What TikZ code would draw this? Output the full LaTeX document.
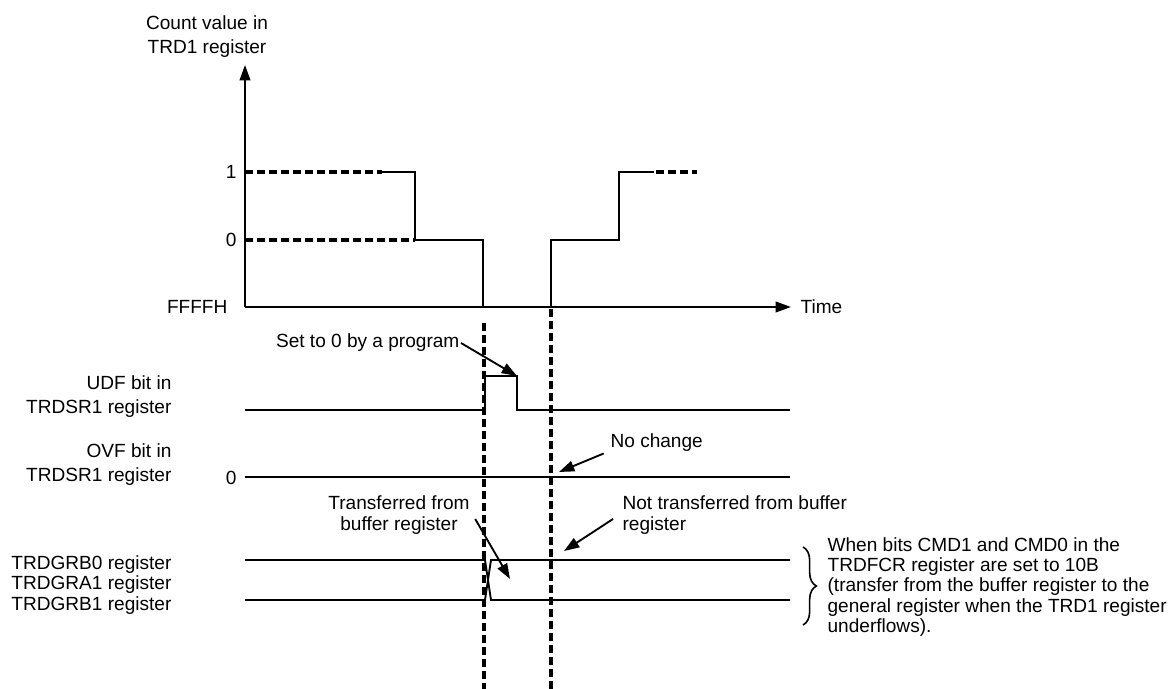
\documentclass[tikz,border=0pt]{standalone}
\usepackage{fontspec}
\setmainfont{Liberation Sans}
\usetikzlibrary{arrows.meta,positioning,decorations.pathreplacing}

\begin{document}
\begin{tikzpicture}[
x=0.75pt,y=-0.75pt,
every node/.style={font=\fontsize{14.3}{15.2}\selectfont,inner sep=1pt},
sig/.style={line width=1.4pt},
dsh/.style={line width=2.5pt,dash pattern=on 6pt off 3pt},
lbl/.style={align=right,anchor=east},
>={Triangle[length=11.5pt,width=8pt]}
]
\useasboundingbox (0,0) rectangle (1172,689);

% labels on the left
\node[align=center] (cnt) at (207,37) {Count value in\\[2.8pt]TRD1 register};
\node[lbl] (one) at (238,172) {1};
\node[lbl] (zero) at (238,240) {0};
\node[lbl] (ffff) at (229,307) {FFFFH};
\node[lbl] (udf) at (173,396.5) {UDF bit in\\[2.4pt]TRDSR1 register};
\node[lbl] (ovf) at (173,465) {OVF bit in\\[2.8pt]TRDSR1 register};
\node[lbl] (ovfz) at (238,478) {0};
\node[lbl] (grb) at (173,585) {TRDGRB0 register\\TRDGRA1 register\\TRDGRB1 register};

% axes
\coordinate (o) at (245,307);
\coordinate (ytop) at (245,65);
\coordinate (xend) at (791,307);
\draw[sig,->] (o) -- (ytop);
\draw[sig,->] (o) -- (xend);
\node[anchor=west] (time) at (799,307) {Time};

% count value
\draw[dsh] (245,172) -- (382,172);
\draw[dsh] (245,240) -- (415,240);
\draw[sig] (382,172) -- (415,172) -- (415,240) -- (483,240) -- (483,307)
  -- (551,307) -- (551,240) -- (619,240) -- (619,172) -- (654,172);
\draw[dsh] (656,172) -- (697,172);

% timing lines
\draw[dsh] (484,323) -- (484,689);
\draw[dsh] (551,309) -- (551,689);

% UDF
\draw[sig] (245,410) -- (485,410) -- (485,376) -- (517,376) -- (517,410) -- (790,410);
% OVF
\draw[sig] (245,477) -- (790,477);
% TRDGRB0 / TRDGRA1 / TRDGRB1
\draw[sig] (245,560) -- (485,560) -- (491,600) -- (790,600);
\draw[sig] (245,600) -- (485,600) -- (491,560) -- (790,560);

% notes
\node[anchor=east] (prog) at (461,343) {Set to 0 by a program};
\coordinate (udfdn) at (517,376);
\draw[sig,->] (prog.east) -- (udfdn);

\node[anchor=west] (nochg) at (609,443) {No change};
\coordinate (ovfpt) at (559,472);
\draw[sig,->] ([xshift=-4pt]nochg.south west) -- (ovfpt);

\node[align=center] (xfer) at (399,515) {Transferred from\\buffer register};
\coordinate (xferpt) at (510,579);
\draw[sig,->] ([xshift=3pt,yshift=-3pt]xfer.east) -- (xferpt);

\node[align=left,anchor=west] (noxfer) at (621,515) {Not transferred from buffer\\register};
\coordinate (noxferpt) at (564,551);
\draw[sig,->] ([xshift=-6pt,yshift=-3pt]noxfer.west) -- (noxferpt);

% brace and its note
\coordinate (bt) at (803,547);
\coordinate (bb) at (803,625);
\draw[line width=1.2pt,decorate,decoration={brace,amplitude=10pt}] (bt) -- (bb);
\node[align=left,anchor=west] (cmd) at (826,587) {When bits CMD1 and CMD0 in the\\TRDFCR register are set to 10B\\(transfer from the buffer register to the\\general register when the TRD1 register\\underflows).};

\end{tikzpicture}
\end{document}
